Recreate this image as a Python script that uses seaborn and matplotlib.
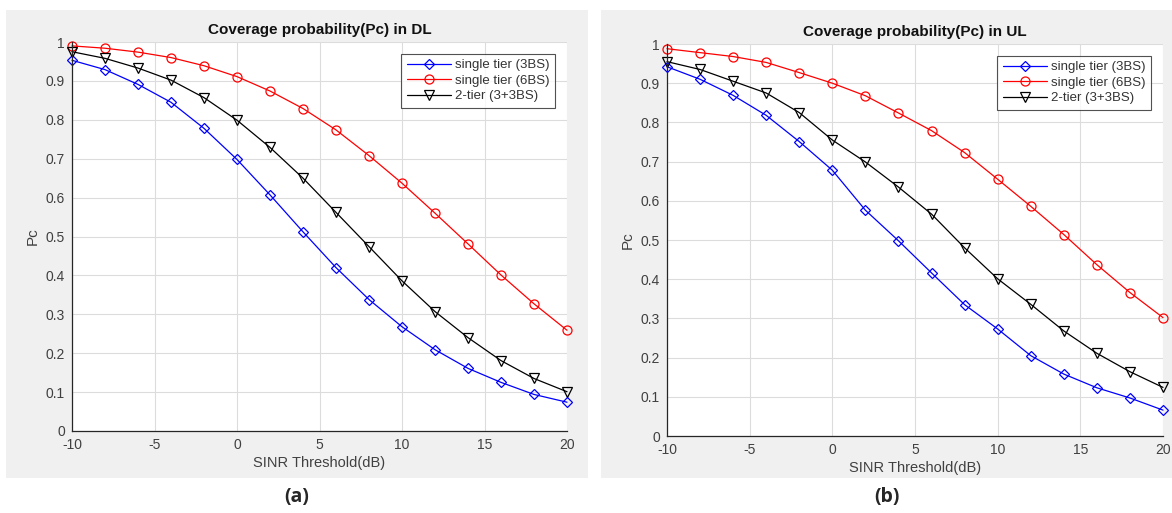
import numpy as np
import pandas as pd
import seaborn as sns
import matplotlib
matplotlib.use("Agg")
import matplotlib.pyplot as plt
from matplotlib.patches import Rectangle

sinr_db = [-10, -8, -6, -4, -2, 0, 2, 4, 6, 8, 10, 12, 14, 16, 18, 20]

dl_3bs = [0.953, 0.929, 0.891, 0.845, 0.778, 0.698, 0.607, 0.512, 0.420, 0.338,
          0.268, 0.209, 0.161, 0.125, 0.094, 0.074]
dl_6bs = [0.990, 0.984, 0.974, 0.960, 0.939, 0.911, 0.874, 0.829, 0.774, 0.708,
          0.637, 0.560, 0.481, 0.401, 0.327, 0.259]
dl_2tier = [0.975, 0.958, 0.933, 0.902, 0.857, 0.799, 0.729, 0.650, 0.562, 0.474,
            0.386, 0.307, 0.240, 0.181, 0.135, 0.101]

ul_3bs = [0.942, 0.910, 0.869, 0.818, 0.751, 0.678, 0.576, 0.498, 0.416, 0.335,
          0.273, 0.205, 0.158, 0.123, 0.097, 0.066]
ul_6bs = [0.988, 0.978, 0.968, 0.953, 0.927, 0.900, 0.868, 0.824, 0.779, 0.723,
          0.655, 0.586, 0.514, 0.437, 0.366, 0.302]
ul_2tier = [0.955, 0.935, 0.905, 0.875, 0.825, 0.755, 0.699, 0.635, 0.566, 0.480,
            0.401, 0.336, 0.268, 0.211, 0.164, 0.124]

series_names = ["single tier (3BS)", "single tier (6BS)", "2-tier (3+3BS)"]
series_colors = ["#0000ff", "#ff0000", "#000000"]
series_markers = ["D", "o", "v"]

sns.set_style("white")
plt.rcParams["font.family"] = ["Liberation Sans", "DejaVu Sans"]
plt.rcParams["axes.unicode_minus"] = False

fig = plt.figure(figsize=(11.72, 5.13), dpi=100)

panels = [
    ("Coverage probability(Pc) in DL", [dl_3bs, dl_6bs, dl_2tier], (72, 567, 42, 431), (6, 588), "(a)"),
    ("Coverage probability(Pc) in UL", [ul_3bs, ul_6bs, ul_2tier], (667, 1163, 44, 436), (601, 1172), "(b)"),
]

for title, data, (px0, px1, py0, py1), (gx0, gx1), tag in panels:
    # grey MATLAB-style figure background behind each panel
    fig.add_artist(Rectangle((gx0 / 1172, 1 - 478 / 513), (gx1 - gx0) / 1172, (478 - 10) / 513,
                             transform=fig.transFigure, facecolor="#f0f0f0",
                             edgecolor="none", zorder=-5))
    ax = fig.add_axes([px0 / 1172, 1 - py1 / 513, (px1 - px0) / 1172, (py1 - py0) / 513])
    ax.set_zorder(1)
    ax.set_facecolor("white")
    for name, vals, col, mk in zip(series_names, data, series_colors, series_markers):
        df = pd.DataFrame({"sinr": sinr_db, "pc": vals})
        sns.lineplot(data=df, x="sinr", y="pc", ax=ax, color=col, marker=mk,
                     markersize=6.5 if mk != "D" else 5.5, mfc="none", mec=col,
                     mew=0.9, lw=0.9, label=name, clip_on=False)
    ax.set_xlim(-10, 20)
    ax.set_ylim(0, 1)
    ax.set_xticks(range(-10, 21, 5))
    ax.set_yticks(np.arange(0, 1.01, 0.1))
    ax.set_yticklabels(["0"] + [f"{v:.1f}" for v in np.arange(0.1, 0.95, 0.1)] + ["1"])
    ax.grid(True, color="#dcdcdc", lw=0.8)
    ax.set_axisbelow(True)
    for s in ["top", "right"]:
        ax.spines[s].set_visible(False)
    for s in ["left", "bottom"]:
        ax.spines[s].set_color("#262626")
        ax.spines[s].set_linewidth(0.9)
    ax.tick_params(direction="in", length=3, colors="#262626", labelsize=10, pad=5)
    for lbl in ax.get_xticklabels() + ax.get_yticklabels():
        lbl.set_color("#404040")
    ax.set_xlabel("SINR Threshold(dB)", fontsize=10.5, color="#404040", labelpad=3)
    ax.set_ylabel("Pc", fontsize=11, color="#404040", labelpad=4)
    ax.set_title(title, fontsize=11, fontweight="bold", color="#111111", pad=6)
    leg = ax.legend(loc="upper right", fontsize=9.5, frameon=True, fancybox=False,
                    edgecolor="#262626", handlelength=3.4, borderaxespad=0.9,
                    labelspacing=0.25, borderpad=0.4, handletextpad=0.3)
    leg.get_frame().set_linewidth(0.8)
    leg.set_zorder(10)
    for t in leg.get_texts():
        t.set_color("#333333")
    xc = (gx0 + gx1) / 2 / 1172
    fig.text(xc, 1 - 497 / 513, tag, ha="center", va="center", fontsize=14,
             fontweight="bold", family=["Open Sans", "DejaVu Sans"])

fig.savefig("out.png", dpi=100)
